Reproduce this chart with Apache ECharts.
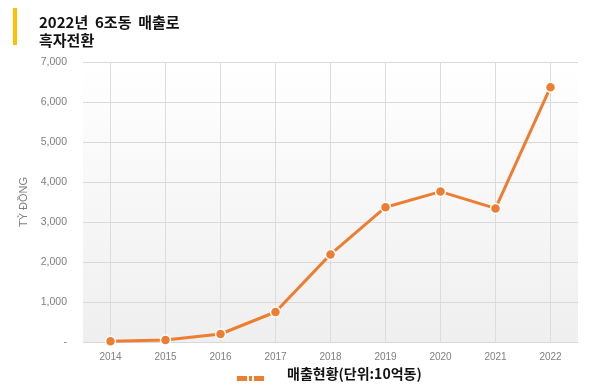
<!DOCTYPE html>
<html><head><meta charset="utf-8">
<script src="https://cdn.jsdelivr.net/npm/echarts@6/dist/echarts.min.js"></script>
<style>html,body{margin:0;padding:0;background:#fff}#c{width:600px;height:388px}</style>
</head><body><div id="c"></div>
<script>
const categories = ['2014','2015','2016','2017','2018','2019','2020','2021','2022'];
const salesValues = [20, 50, 200, 750, 2190, 3370, 3760, 3340, 6370];
const seriesName = '매출현황(단위:10억동)';
const titleText = '2022년  6조동  매출로\n흑자전환';
const yAxisName = 'TỶ ĐỒNG';

const chart = echarts.init(document.getElementById('c'), null, {renderer:'canvas'});
chart.setOption({
  animation:false,
  graphic:[
    {type:'rect', left:13, top:8, shape:{width:4, height:37}, style:{fill:'#FFC000'}},
    {type:'group', left:237, top:376, children:[
      {type:'rect', shape:{x:0, y:0, width:10, height:5}, style:{fill:'#ED7D31'}},
      {type:'rect', shape:{x:12, y:0, width:3, height:5}, style:{fill:'#ED7D31'}},
      {type:'rect', shape:{x:17, y:0, width:10, height:5}, style:{fill:'#ED7D31'}}
    ]}
  ],
  title:{text:titleText, left:34, top:8, textStyle:{fontFamily:'Noto Sans CJK KR', fontSize:15, fontWeight:'bold', color:'#111', lineHeight:18}},
  grid:{left:83, right:22, top:62, bottom:46, show:true, borderWidth:0,
    backgroundColor:new echarts.graphic.LinearGradient(0,0,0,1,[{offset:0,color:'#ffffff'},{offset:1,color:'#efefef'}])},
  legend:{bottom:2, left:237, icon:'none', itemWidth:26, itemHeight:14,
    textStyle:{fontFamily:'Noto Sans CJK KR', fontSize:14, fontWeight:'bold', color:'#111', padding:[0,0,0,14]}},
  xAxis:{type:'value', min:2013.5, max:2022.5, interval:0.5,
    axisLine:{show:true, lineStyle:{color:'#d9d9d9'}}, axisTick:{show:false},
    axisLabel:{color:'#7f7f7f', fontSize:10, fontFamily:'Liberation Sans', margin:10, showMinLabel:true, showMaxLabel:true,
      formatter:v=> Number.isInteger(v) ? String(v) : ''},
    splitLine:{show:true, lineStyle:{color:['rgba(0,0,0,0)','#dcdcdc']}}},
  yAxis:{type:'value', min:0, max:7000, interval:1000, name:yAxisName, nameLocation:'middle', nameGap:54, nameRotate:90,
    nameTextStyle:{color:'#7f7f7f', fontSize:11, fontFamily:'Liberation Sans'},
    axisLine:{show:false}, axisTick:{show:false},
    axisLabel:{color:'#7f7f7f', fontSize:10.5, fontFamily:'Liberation Sans', margin:16, formatter:v=> v===0?'-':v.toLocaleString('en-US')},
    splitLine:{lineStyle:{color:'#d9d9d9'}}},
  series:[{name:seriesName, type:'line', data:categories.map((c,i)=>[Number(c), salesValues[i]]), symbol:'circle', symbolSize:10,
    lineStyle:{color:'#ED7D31', width:3}, itemStyle:{color:'#ED7D31', borderColor:'#fff', borderWidth:1.5}}]
});
</script></body></html>
